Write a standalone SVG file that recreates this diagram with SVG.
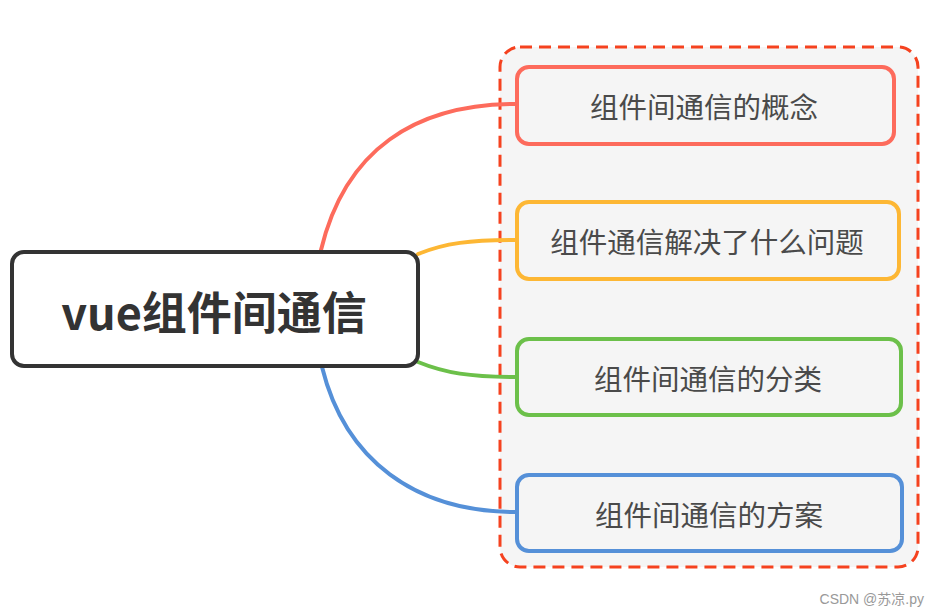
<svg xmlns="http://www.w3.org/2000/svg" width="941" height="615" viewBox="0 0 941 615">
<style>
.conn{fill:none;stroke-width:4;stroke-linecap:round}
.child{fill:#f5f5f5;stroke-width:4}
.ct{font-family:"Noto Sans CJK SC","Noto Sans",sans-serif;font-size:28.5px;fill:#4a4a4a;text-anchor:middle;dominant-baseline:central}
</style>
<rect width="941" height="615" fill="#ffffff"/>
<g id="container">
<rect x="500" y="47" width="418" height="520" rx="20" fill="#f5f5f5" stroke="#f5421f" stroke-width="3" stroke-dasharray="12,7"/>
</g>
<g id="connectors">
<path class="conn" stroke="#fd6b5c" d="M321,250 C345,150 415,104 516,104"/>
<path class="conn" stroke="#fdb734" d="M418,254 C445,243 470,240 516,240"/>
<path class="conn" stroke="#6cc04a" d="M418,362 C445,373 470,377 516,377"/>
<path class="conn" stroke="#5590d8" d="M322,367 C345,460 415,512 516,512"/>
</g>
<g id="root">
<rect x="12" y="252" width="406" height="114" rx="12" fill="#ffffff" stroke="#333333" stroke-width="4"/>
<text x="214" y="310" font-family="'Noto Sans CJK SC','Noto Sans',sans-serif" font-size="45" font-weight="bold" fill="#333333" text-anchor="middle" dominant-baseline="central">vue组件间通信</text>
</g>
<g id="n1">
<rect class="child" x="517" y="67" width="377" height="77" rx="12" stroke="#fd6b5c"/>
<text class="ct" x="704" y="105">组件间通信的概念</text>
</g>
<g id="n2">
<rect class="child" x="517" y="202" width="382" height="77" rx="12" stroke="#fdb734"/>
<text class="ct" x="707" y="240">组件通信解决了什么问题</text>
</g>
<g id="n3">
<rect class="child" x="517" y="339" width="384" height="76" rx="12" stroke="#6cc04a"/>
<text class="ct" x="708" y="377">组件间通信的分类</text>
</g>
<g id="n4">
<rect class="child" x="517" y="475" width="385" height="76" rx="12" stroke="#5590d8"/>
<text class="ct" x="709" y="513">组件间通信的方案</text>
</g>
<text x="924" y="599" font-family="'Liberation Sans','Noto Sans CJK SC',sans-serif" font-size="14" fill="#999999" text-anchor="end" dominant-baseline="central">CSDN @苏凉.py</text>
</svg>
